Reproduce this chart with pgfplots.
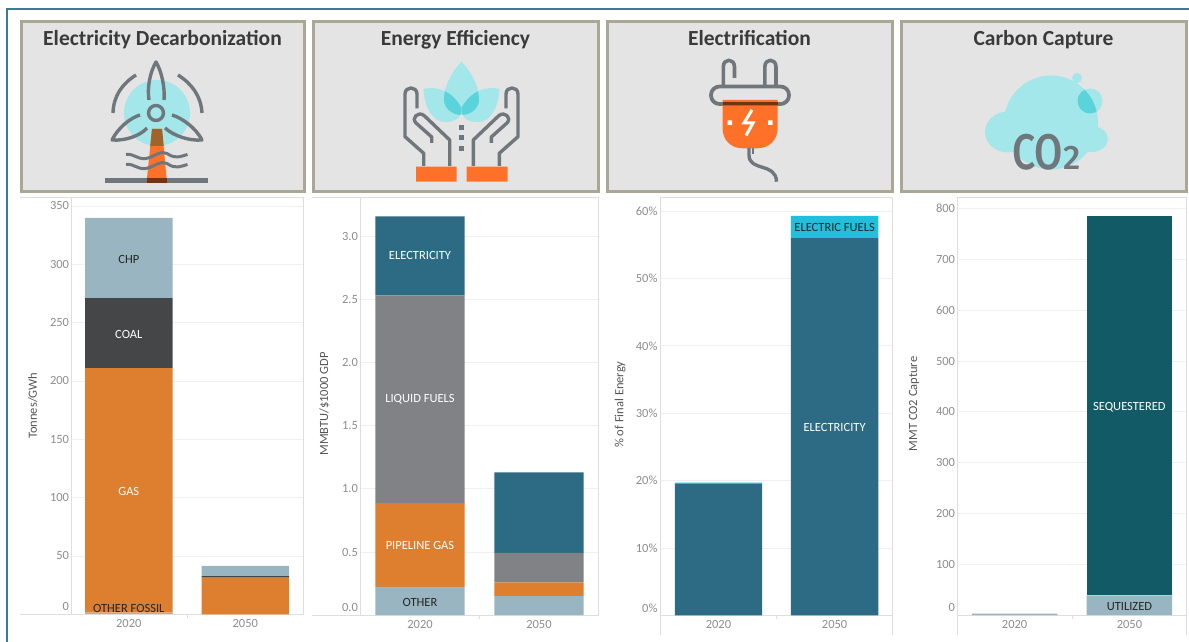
\documentclass[border=0pt]{standalone}
\usepackage{fontspec}
\setmainfont{Carlito}
\newfontfamily\cofont{Fira Sans Medium}
\usepackage{pgfplots}
\pgfplotsset{compat=1.18}
\definecolor{Orng}{HTML}{DE7E2F}
\definecolor{Slate}{HTML}{98B5C1}
\definecolor{Dark}{HTML}{454647}
\definecolor{Blu}{HTML}{2C6B83}
\definecolor{Gry}{HTML}{808285}
\definecolor{Teal}{HTML}{115A66}
\definecolor{Cyn}{HTML}{22BFDC}
\definecolor{Panel}{HTML}{E4E4E4}
\definecolor{PanelB}{HTML}{ABA795}
\definecolor{Frame}{HTML}{3A7D92}
\definecolor{TickT}{HTML}{8C8C8C}
\definecolor{LabT}{HTML}{555555}
\definecolor{Ax}{HTML}{DEDEDE}
\definecolor{Grd}{HTML}{F0F0F0}
\definecolor{Icn}{HTML}{6F777C}
\definecolor{Ice}{HTML}{A3E7EA}
\definecolor{IceD}{HTML}{5BD3DA}
\definecolor{Fire}{HTML}{FF7029}
\definecolor{Burn}{HTML}{A0632A}
\definecolor{TitleT}{HTML}{3A3A3A}
\pgfplotsset{
  panel/.style={
    scale only axis, clip=false, axis line style={draw=Ax,line width=0.9pt},
    ybar stacked, bar shift=0pt, ymin=0,
    xtick={0,1}, xticklabels={2020,2050},
    tick style={draw=none}, tick pos=left,
    ymajorgrids, grid style={draw=Grd,line width=0.8pt},
    ticklabel style={text=TickT,font=\fontsize{12.5}{14}\selectfont},
    xticklabel style={yshift=-1.5pt},
    yticklabel style={xshift=1pt},
    /pgf/number format/assume math mode=true,
    every axis y label/.style={rotate=90,anchor=center,text=LabT,font=\fontsize{12.5}{14}\selectfont},
  },
  bar/.style={fill=#1,draw=none,forget plot},
}
\tikzset{
  lbl/.style={text=#1,font=\fontsize{12.5}{14}\selectfont,inner sep=0pt,yshift=-1pt},
  icn/.style={draw=Icn,line width=3.4pt,line cap=butt,line join=round},
}
\begin{document}
\begin{tikzpicture}[x=1pt,y=1pt]
\path[use as bounding box] (0,0) rectangle (1189,642);
\begin{scope}[shift={(0,642)},y=-1pt]
  % outer frame
  \draw[Frame,line width=2pt] (7,642) -- (7,9.5) -- (1189,9.5);
  % title panels
  \foreach \a/\b/\t in {21/304/{Electricity Decarbonization},313/598/{Energy Efficiency},607/892/{Electrification},901/1186/{Carbon Capture}}{
    \draw[PanelB,line width=3pt,fill=Panel] (\a,21.5) rectangle (\b,192);
    \node[text=TitleT,font=\fontsize{21.5}{24}\bfseries\selectfont,inner sep=0pt,anchor=base] at ({(\a+\b)/2},46) {\t};
  }
  % frame extensions of the first two charts
  \draw[Ax,line width=0.9pt] (20,197) -- (72,197) (20,614.3) -- (72,614.3);
  \draw[Ax,line width=0.9pt] (312,197) -- (361,197) (312,615.2) -- (361,615.2);
  \draw[Ax,line width=0.9pt] (660,615) -- (660,635) (892,615) -- (892,635) (957.6,615) -- (957.6,635) (1186.8,615) -- (1186.8,635);

  % ---- turbine
  \fill[Ice] (157,113) circle (33);
  \fill[Fire] (146.5,183) -- (152,129) -- (162,129) -- (167,183) -- cycle;
  \fill[Burn] (150.3,146) -- (152,129) -- (162,129) -- (163.7,146) -- cycle;
  \draw[icn,line width=3.4pt] (113,113) .. controls (113.5,96) and (122,84) .. (136,75);
  \draw[icn,line width=3.4pt] (202,113) .. controls (201,96) and (192,84) .. (178,75);
  \draw[icn,line width=3.4pt] (149,100) .. controls (147,88) and (150,72) .. (156,62) .. controls (162,72) and (165,88) .. (164,100);
  \draw[icn,line width=3.4pt] (140,115) .. controls (130,118) and (118,128) .. (112,140) .. controls (125,141) and (140,136) .. (147,128);
  \draw[icn,line width=3.4pt] (172,115) .. controls (182,118) and (196,128) .. (202,140) .. controls (189,141) and (174,136) .. (165,128);
  \draw[icn] (156,113) circle (7.5);
  \foreach \yy in {154.5,164.5}{
    \draw[icn,line width=3pt] (126,\yy) .. controls (135,\yy-1) and (136,\yy+5) .. (146,\yy+4) .. controls (156,\yy+2) and (158,\yy-4) .. (167,\yy-1) .. controls (176,\yy+5) and (180,\yy+2) .. (187.5,\yy);
  }
  \draw[Icn,line width=5pt] (105,180.5) -- (208,180.5);
  \fill[black!55!Fire] (146.7,178) rectangle (167,183);

  % ---- hands
  \fill[Ice] (461.5,61.7) .. controls (448,76) and (444,90) .. (444,100) .. controls (444,108) and (452,115) .. (461.5,115) .. controls (471,115) and (479,108) .. (479,100) .. controls (479,90) and (475,76) .. (461.5,61.7) -- cycle;
  \fill[Ice] (423.6,89) .. controls (436,86) and (452,90) .. (461.5,108) .. controls (462,116) and (458,122) .. (445,122) .. controls (432,122) and (424,106) .. (423.6,89) -- cycle;
  \fill[Ice] (499.4,89) .. controls (487,86) and (471,90) .. (461.5,108) .. controls (461,116) and (465,122) .. (478,122) .. controls (491,122) and (499,106) .. (499.4,89) -- cycle;
  \begin{scope}
    \clip (461.5,61.7) .. controls (448,76) and (444,90) .. (444,100) .. controls (444,108) and (452,115) .. (461.5,115) .. controls (471,115) and (479,108) .. (479,100) .. controls (479,90) and (475,76) .. (461.5,61.7) -- cycle;
    \fill[IceD] (423.6,89) .. controls (436,86) and (452,90) .. (461.5,108) .. controls (462,116) and (458,122) .. (445,122) .. controls (432,122) and (424,106) .. (423.6,89) -- cycle;
    \fill[IceD] (499.4,89) .. controls (487,86) and (471,90) .. (461.5,108) .. controls (461,116) and (465,122) .. (478,122) .. controls (491,122) and (499,106) .. (499.4,89) -- cycle;
  \end{scope}
  \foreach \sc/\sh in {1/0,-1/923}{
    \begin{scope}[xshift=\sh,xscale=\sc]
      \draw[icn] (423.7,166) -- (423.7,153.3) -- (405,136.7) -- (405,94) .. controls (405,86) and (417,86) .. (417,94) -- (417,108.3);
      \draw[icn] (449.7,166) -- (449.7,140) -- (424,115.5) .. controls (418,111) and (411,118) .. (416,123) -- (431.7,137) -- (431.7,143);
    \end{scope}
  }
  \fill[Fire] (416,166.7) rectangle (456.6,181.7) (466.5,166.7) rectangle (507.5,181.7);
  \foreach \yy in {127.7,138,148.3}{\fill[Icn] (459,\yy-2.5) rectangle (464,\yy+2.5);}

  % ---- plug
  \draw[icn,line width=3.6pt] (734.5,78) -- (734.5,67) .. controls (734.5,58) and (723.3,58) .. (723.3,67) -- (723.3,86);
  \draw[icn,line width=3.6pt] (776,86) -- (776,67) .. controls (776,58) and (764.8,58) .. (764.8,67) -- (764.8,86);
  \fill[Fire] (722.5,100) -- (777.7,100) -- (777.7,128) .. controls (777.7,140) and (769,148.3) .. (757.7,148.3) -- (742.5,148.3) .. controls (731,148.3) and (722.5,140) .. (722.5,128) -- cycle;
  \draw[icn,line width=3.8pt,rounded corners=8.5pt] (711,86.5) rectangle (789,104);
  \fill[black!55!Fire] (722.5,102) rectangle (777.7,105.5);
  \draw[white,line width=3pt,line join=miter] (752,110) -- (744,123) -- (753,123) -- (746,135.5);
  \fill[white] (727.5,120.5) rectangle (732,125) (768,120.5) rectangle (772.5,125);
  \draw[icn] (749,148) -- (749,155) .. controls (749,172) and (776,162) .. (776.5,181.7);
  \draw[icn,line width=2.6pt] (753,148) -- (753,154);

  % ---- cloud
  \fill[Ice] (1051,122.5) circle (47);
  \fill[Ice] (1008,132) ellipse (23 and 20.5);
  \fill[Ice] (1091,139) ellipse (17 and 13);
  \fill[Ice] (1005,135) rectangle (1095,152);
  \fill[Ice] (1077,78) circle (5);
  \fill[Ice] (1090,101) circle (12.5);
  \begin{scope}
    \clip (1051,122.5) circle (47);
    \fill[IceD] (1090,101) circle (12.5);
  \end{scope}
  \node[text=Icn,inner sep=0pt,anchor=base west,xscale=0.82,font=\cofont\fontsize{50}{52}\selectfont] at (1012,170) {CO};
  \node[text=Icn,inner sep=0pt,anchor=base west,font=\cofont\fontsize{34}{36}\selectfont] at (1063,170) {2};
\end{scope}

% ---- chart 1
\begin{axis}[panel, at={(71.6pt,27.7pt)}, anchor=south west,
  width=231.9pt, height=417.3pt, xmin=-0.491, xmax=1.4996, ymax=357.7,
  bar width=87.5pt,
  ytick={0,50,100,150,200,250,300,350},
  yticklabels={\raisebox{15pt}{0},50,100,150,200,250,300,350},
  ylabel={Tonnes/GWh},
  every axis y label/.append style={at={(axis description cs:-0.167,0.5)}},
  after end axis/.code={
    \node[lbl=black!85] at (axis cs:0,305) {CHP};
    \node[lbl=white] at (axis cs:0,241) {COAL};
    \node[lbl=white] at (axis cs:0,106) {GAS};
    \node[lbl=black!85] at (axis cs:0,6) {OTHER FOSSIL};
  }]
\addplot[bar=Slate] coordinates {(0,1.5) (1,0)};
\addplot[bar=Orng] coordinates {(0,209.5) (1,31.5)};
\addplot[bar=Dark] coordinates {(0,60) (1,1.3)};
\addplot[bar=Slate] coordinates {(0,68.7) (1,8.8)};
\draw[Ax,line width=0.9pt] (axis cs:0.5,0) -- ++(0pt,-4pt);
\end{axis}

% ---- chart 2
\begin{axis}[panel, at={(360.5pt,26.8pt)}, anchor=south west,
  width=237.5pt, height=418.2pt, xmin=-0.5, xmax=1.496, ymax=3.309,
  bar width=89.2pt,
  ytick={0,0.5,1,1.5,2,2.5,3},
  yticklabels={\raisebox{15pt}{0.0},0.5,1.0,1.5,2.0,2.5,3.0},
  ylabel={MMBTU/\$1000 GDP},
  every axis y label/.append style={at={(axis description cs:-0.152,0.505)}},
  after end axis/.code={
    \node[lbl=white] at (axis cs:0,2.855) {ELECTRICITY};
    \node[lbl=white] at (axis cs:0,1.72) {LIQUID FUELS};
    \node[lbl=white] at (axis cs:0,0.56) {PIPELINE GAS};
    \node[lbl=black!85] at (axis cs:0,0.11) {OTHER};
  }]
\addplot[bar=Slate] coordinates {(0,0.224) (1,0.15)};
\addplot[bar=Orng] coordinates {(0,0.662) (1,0.11)};
\addplot[bar=Gry] coordinates {(0,1.644) (1,0.233)};
\addplot[bar=Blu] coordinates {(0,0.625) (1,0.637)};
\draw[Ax,line width=0.9pt] (axis cs:0.5,0) -- ++(0pt,-4pt);
\end{axis}

% ---- chart 3
\begin{axis}[panel, at={(660pt,26.5pt)}, anchor=south west,
  width=232pt, height=418.5pt, xmin=-0.503, xmax=1.494, ymax=62.09,
  bar width=87.3pt,
  ytick={0,10,20,30,40,50,60},
  yticklabels={\raisebox{15pt}{0\%},10\%,20\%,30\%,40\%,50\%,60\%},
  ylabel={\% of Final Energy},
  every axis y label/.append style={at={(axis description cs:-0.172,0.504)}},
  after end axis/.code={
    \node[lbl=white] at (axis cs:1,28.1) {ELECTRICITY};
    \node[lbl=black!85] at (axis cs:1,57.7) {ELECTRIC FUELS};
  }]
\addplot[bar=Blu] coordinates {(0,19.5) (1,56)};
\addplot[bar=Cyn] coordinates {(0,0.2) (1,3.3)};
\draw[Ax,line width=0.9pt] (axis cs:0.5,0) -- ++(0pt,-4pt);
\end{axis}

% ---- chart 4
\begin{axis}[panel, at={(957.6pt,26.9pt)}, anchor=south west,
  width=229.2pt, height=418.1pt, xmin=-0.497, xmax=1.5, ymax=823,
  bar width=85.5pt,
  ytick={0,100,200,300,400,500,600,700,800},
  yticklabels={\raisebox{15pt}{0},100,200,300,400,500,600,700,800},
  ylabel={MMT CO2 Capture},
  every axis y label/.append style={at={(axis description cs:-0.19,0.505)}},
  after end axis/.code={
    \node[lbl=white] at (axis cs:1,412) {SEQUESTERED};
    \node[lbl=black!85] at (axis cs:1,19) {UTILIZED};
  }]
\addplot[bar=Slate] coordinates {(0,3) (1,39)};
\addplot[bar=Teal] coordinates {(0,0) (1,746.5)};
\draw[Ax,line width=0.9pt] (axis cs:0.5,0) -- ++(0pt,-4pt);
\end{axis}
\end{tikzpicture}
\end{document}
